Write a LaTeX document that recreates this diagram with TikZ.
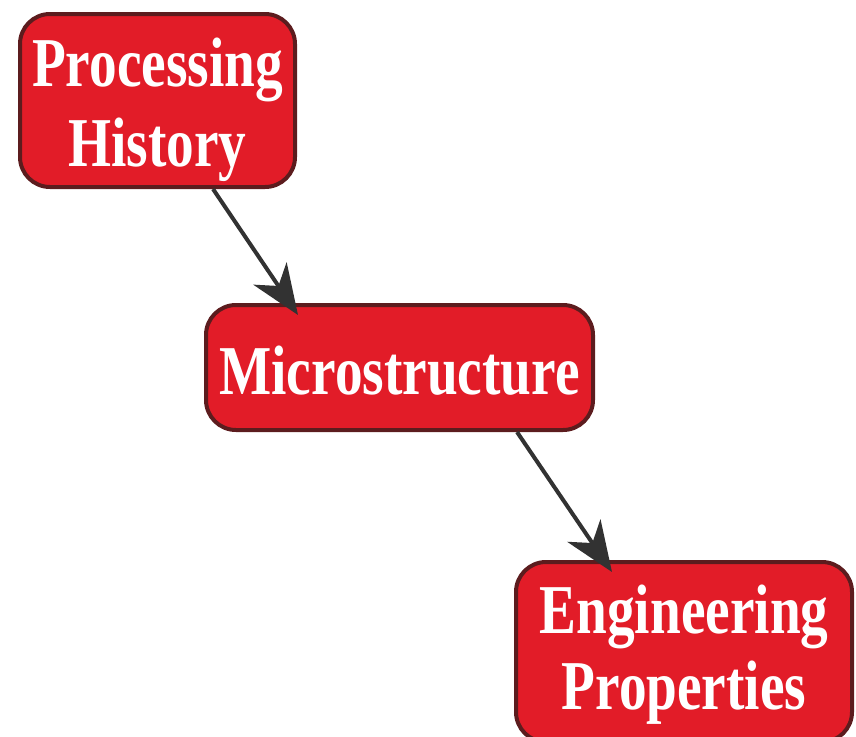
\documentclass[tikz,border=0pt]{standalone}
\usepackage{fontspec}
\setmainfont{Liberation Serif}
\newfontfamily\boxfont[FakeStretch=0.79]{Liberation Serif}
\usetikzlibrary{arrows.meta,calc}
\definecolor{boxred}{RGB}{226,28,40}
\definecolor{boxedge}{RGB}{92,28,30}
\definecolor{arrowgray}{RGB}{50,50,50}
\begin{document}
\begin{tikzpicture}[x=1pt,y=-1pt,
  redbox/.style={draw=boxedge, line width=4pt, fill=boxred, rounded corners=30pt,
    inner sep=0pt},
  boxtext/.style={text=white, align=center, inner sep=0pt,
    font=\boxfont\bfseries\fontsize{70}{80}\selectfont},
  arr/.style={draw=arrowgray, line width=4pt,
    -{Stealth[length=50pt,width=40pt,inset=15pt]}}]
\useasboundingbox (0,0) rectangle (856,736);
\node[redbox, minimum width=275pt, minimum height=173pt] (p) at (157.5,100.5) {};
\node[boxtext] (pt) at ([yshift=-9pt]p.center) {Processing\\History};
\node[redbox, minimum width=387pt, minimum height=125pt] (m) at (399.5,367.5) {};
\node[boxtext] (mt) at ([yshift=-3pt]m.center) {Microstructure};
\node[redbox, minimum width=336pt, minimum height=180pt] (e) at (684,652) {};
\node[boxtext, font=\boxfont\bfseries\fontsize{70}{76}\selectfont] (et) at ([yshift=-3pt]e.center) {Engineering\\Properties};
\draw[arr] ([xshift=55.5pt]p.south) -- ([xshift=-101.5pt,yshift=-12pt]m.north);
\draw[arr] ([xshift=117.5pt]m.south) -- ([xshift=-72pt,yshift=-12pt]e.north);
\end{tikzpicture}
\end{document}
